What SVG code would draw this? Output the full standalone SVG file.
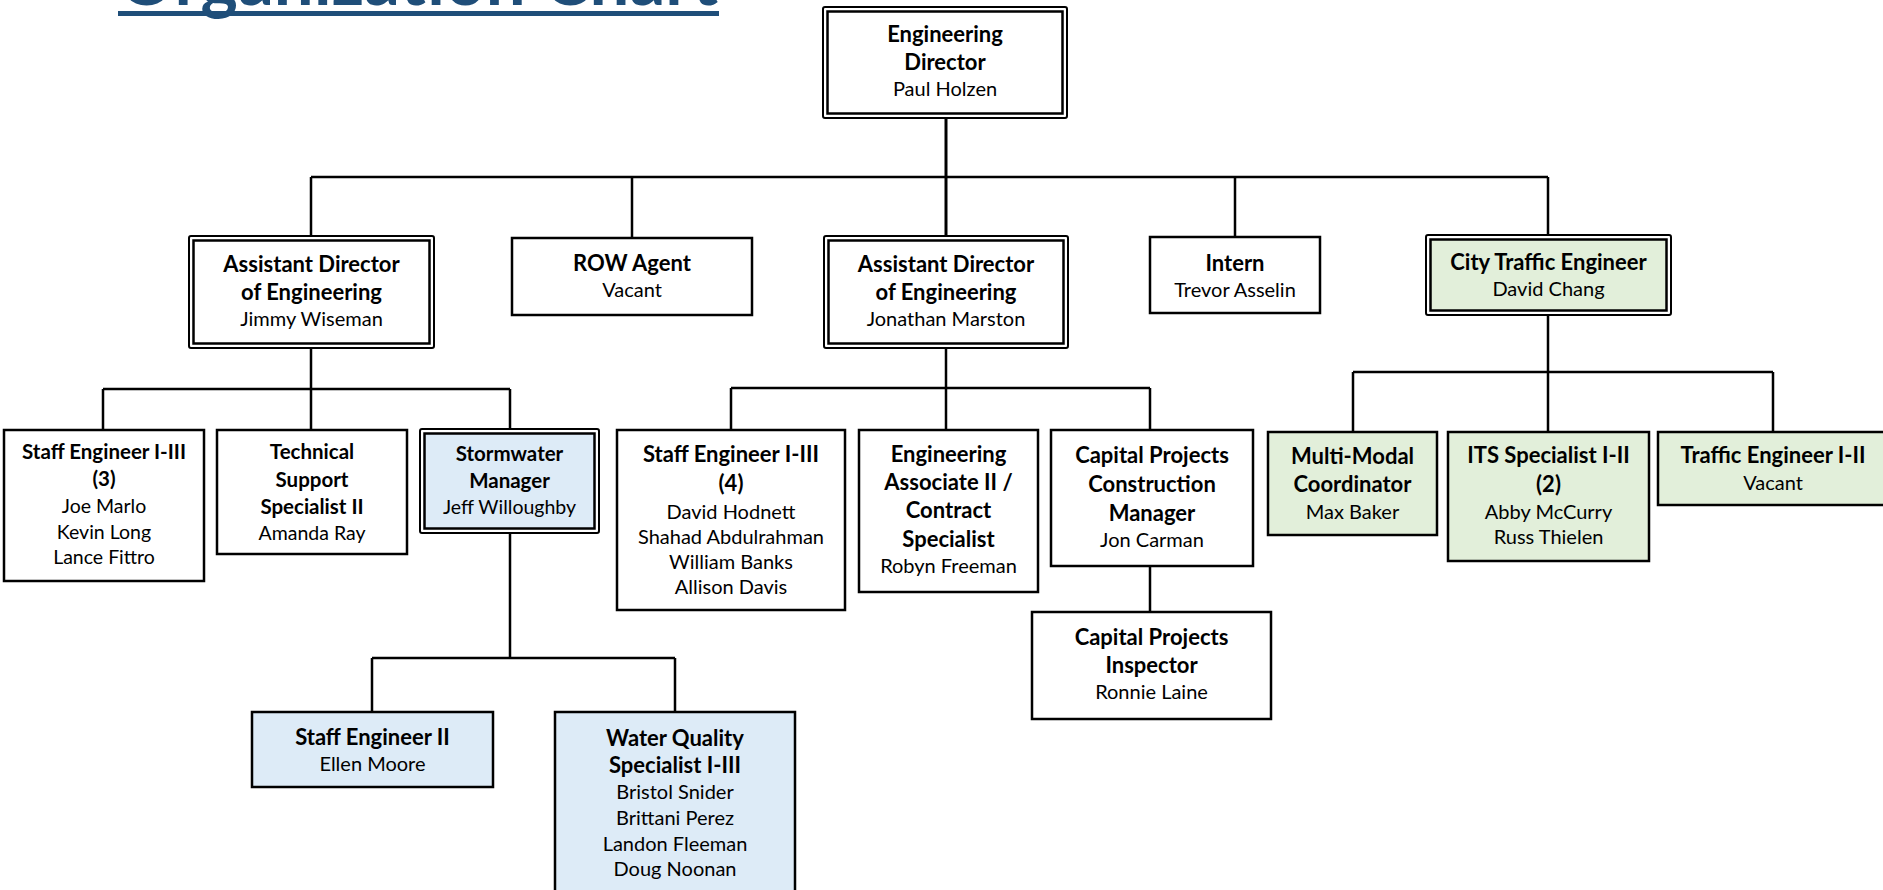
<svg xmlns="http://www.w3.org/2000/svg" width="1883" height="890" viewBox="0 0 1883 890">
  <style>
    .box{fill:#ffffff;stroke:#000000;stroke-width:2.5}
    .outer{fill:#ffffff;stroke:#000000;stroke-width:2}
    .inner{fill:none;stroke:#000000;stroke-width:2.5}
    .green{fill:#E2EFDA}
    .blue{fill:#DDEBF7}
    .conn path{fill:none;stroke:#000000;stroke-width:2.5}
    text{font-family:Lato,"Liberation Sans",sans-serif;text-anchor:middle;fill:#000000}
    .t{font-weight:700;font-size:22px}
    .n{font-weight:400;font-size:20px}
    .ts{font-weight:700;font-size:20.5px}
    .ns{font-weight:400;font-size:19.5px}
    .title{font-weight:700;font-size:74px;fill:#1F4E79;text-anchor:start}
  </style>

  <!-- page heading, mostly above the top edge -->
  <g id="heading">
    <text class="title" x="118" y="5" textLength="600" lengthAdjust="spacingAndGlyphs">Organization Chart</text>
    <rect x="118" y="11" width="601" height="5" fill="#1F4E79"/>
  </g>

  <!-- reporting lines -->
  <g id="connectors" class="conn">
    <path d="M946,118 V237" style="stroke-width:3"/>
    <path d="M311,177 H1548"/>
    <path d="M311,177 V236 M632,177 V238 M1235,177 V237 M1548,177 V235"/>
    <path d="M311,348 V389 M103,389 H510 M103,389 V430 M311,389 V430 M510,389 V429"/>
    <path d="M510,533 V658 M372,658 H675 M372,658 V712 M675,658 V712"/>
    <path d="M946,348 V430 M731,388 H1150 M731,388 V430 M1150,388 V430 M1150,566 V612"/>
    <path d="M1548,315 V372 M1353,372 H1773 M1353,372 V432 M1548,372 V432 M1773,372 V432"/>
  </g>

  <g id="director">
    <rect class="outer" x="823" y="7" width="244" height="111" rx="2"/>
    <rect class="inner" x="827.5" y="11.5" width="235" height="102"/>
    <text class="t" x="945" y="42">Engineering</text>
    <text class="t" x="945" y="70">Director</text>
    <text class="n" x="945" y="96">Paul Holzen</text>
  </g>

  <g id="asst-director-west">
    <rect class="outer" x="189" y="236" width="245" height="112" rx="2"/>
    <rect class="inner" x="193.5" y="240.5" width="236" height="103"/>
    <text class="t" x="311.5" y="272">Assistant Director</text>
    <text class="t" x="311.5" y="300">of Engineering</text>
    <text class="n" x="311.5" y="326">Jimmy Wiseman</text>
  </g>

  <g id="row-agent">
    <rect class="box" x="512" y="238" width="240" height="77"/>
    <text class="t" x="632" y="271">ROW Agent</text>
    <text class="n" x="632" y="297">Vacant</text>
  </g>

  <g id="asst-director-east">
    <rect class="outer" x="824" y="236" width="244" height="112" rx="2"/>
    <rect class="inner" x="828.5" y="240.5" width="235" height="103"/>
    <text class="t" x="946" y="272">Assistant Director</text>
    <text class="t" x="946" y="300">of Engineering</text>
    <text class="n" x="946" y="326">Jonathan Marston</text>
  </g>

  <g id="intern">
    <rect class="box" x="1150" y="237" width="170" height="76"/>
    <text class="t" x="1235" y="271">Intern</text>
    <text class="n" x="1235" y="297">Trevor Asselin</text>
  </g>

  <g id="city-traffic-engineer">
    <rect class="outer" x="1426" y="235" width="245" height="80" rx="2"/>
    <rect class="inner green" x="1430.5" y="239.5" width="236" height="71"/>
    <text class="t" x="1548.5" y="270">City Traffic Engineer</text>
    <text class="n" x="1548.5" y="296">David Chang</text>
  </g>

  <g id="staff-engineer-3">
    <rect class="box" x="4" y="430" width="200" height="151"/>
    <text class="ts" x="104" y="459">Staff Engineer I-III</text>
    <text class="ts" x="104" y="486">(3)</text>
    <text class="ns" x="104" y="513">Joe Marlo</text>
    <text class="ns" x="104" y="539">Kevin Long</text>
    <text class="ns" x="104" y="564">Lance Fittro</text>
  </g>

  <g id="technical-support">
    <rect class="box" x="217" y="430" width="190" height="124"/>
    <text class="ts" x="312" y="459">Technical</text>
    <text class="ts" x="312" y="487">Support</text>
    <text class="ts" x="312" y="514">Specialist II</text>
    <text class="ns" x="312" y="540">Amanda Ray</text>
  </g>

  <g id="stormwater-manager">
    <rect class="outer" x="420" y="429" width="179" height="104" rx="2"/>
    <rect class="inner blue" x="424.5" y="433.5" width="170" height="95"/>
    <text class="ts" x="509.5" y="461">Stormwater</text>
    <text class="ts" x="509.5" y="488">Manager</text>
    <text class="ns" x="509.5" y="514">Jeff Willoughby</text>
  </g>

  <g id="staff-engineer-2">
    <rect class="box blue" x="252" y="712" width="241" height="75"/>
    <text class="t" x="372.5" y="745">Staff Engineer II</text>
    <text class="n" x="372.5" y="771">Ellen Moore</text>
  </g>

  <g id="water-quality">
    <rect class="box blue" x="555" y="712" width="240" height="190"/>
    <text class="t" x="675" y="746">Water Quality</text>
    <text class="t" x="675" y="773">Specialist I-III</text>
    <text class="n" x="675" y="799">Bristol Snider</text>
    <text class="n" x="675" y="825">Brittani Perez</text>
    <text class="n" x="675" y="851">Landon Fleeman</text>
    <text class="n" x="675" y="876">Doug Noonan</text>
  </g>

  <g id="staff-engineer-4">
    <rect class="box" x="617" y="430" width="228" height="180"/>
    <text class="t" x="731" y="462">Staff Engineer I-III</text>
    <text class="t" x="731" y="491">(4)</text>
    <text class="n" x="731" y="519">David Hodnett</text>
    <text class="n" x="731" y="544">Shahad Abdulrahman</text>
    <text class="n" x="731" y="569">William Banks</text>
    <text class="n" x="731" y="594">Allison Davis</text>
  </g>

  <g id="engineering-associate">
    <rect class="box" x="859" y="430" width="179" height="162"/>
    <text class="t" x="948.5" y="462">Engineering</text>
    <text class="t" x="948.5" y="490">Associate II /</text>
    <text class="t" x="948.5" y="518">Contract</text>
    <text class="t" x="948.5" y="547">Specialist</text>
    <text class="n" x="948.5" y="573">Robyn Freeman</text>
  </g>

  <g id="construction-manager">
    <rect class="box" x="1051" y="430" width="202" height="136"/>
    <text class="t" x="1152" y="463">Capital Projects</text>
    <text class="t" x="1152" y="492">Construction</text>
    <text class="t" x="1152" y="521">Manager</text>
    <text class="n" x="1152" y="547">Jon Carman</text>
  </g>

  <g id="projects-inspector">
    <rect class="box" x="1032" y="612" width="239" height="107"/>
    <text class="t" x="1151.5" y="645">Capital Projects</text>
    <text class="t" x="1151.5" y="673">Inspector</text>
    <text class="n" x="1151.5" y="699">Ronnie Laine</text>
  </g>

  <g id="multi-modal">
    <rect class="box green" x="1268" y="432" width="169" height="103"/>
    <text class="t" x="1352.5" y="464">Multi-Modal</text>
    <text class="t" x="1352.5" y="492">Coordinator</text>
    <text class="n" x="1352.5" y="519">Max Baker</text>
  </g>

  <g id="its-specialist">
    <rect class="box green" x="1448" y="432" width="201" height="129"/>
    <text class="t" x="1548.5" y="463">ITS Specialist I-II</text>
    <text class="t" x="1548.5" y="492">(2)</text>
    <text class="n" x="1548.5" y="519">Abby McCurry</text>
    <text class="n" x="1548.5" y="544">Russ Thielen</text>
  </g>

  <g id="traffic-engineer">
    <rect class="box green" x="1658" y="432" width="240" height="73"/>
    <text class="t" x="1773" y="463">Traffic Engineer I-II</text>
    <text class="n" x="1773" y="490">Vacant</text>
  </g>
</svg>
